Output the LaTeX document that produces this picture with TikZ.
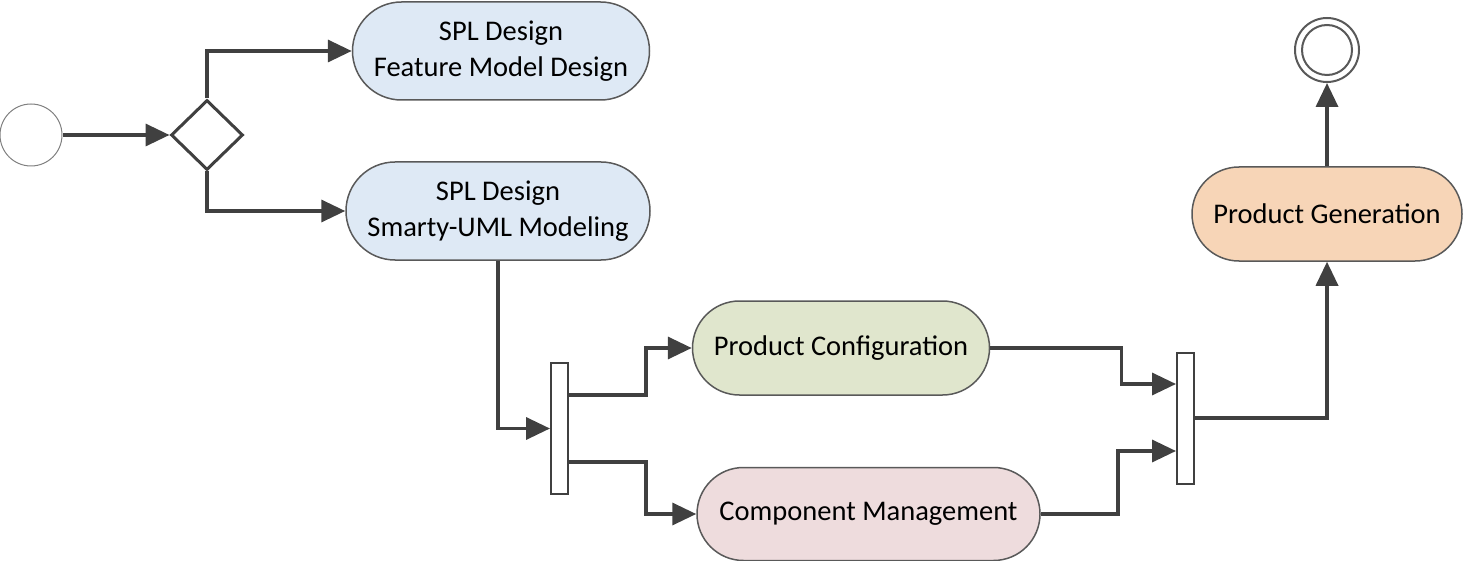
\documentclass[tikz,border=0pt]{standalone}
\usepackage{fontspec}
\setmainfont{Carlito}
\usepackage{tikz}
\usetikzlibrary{arrows.meta, shapes.geometric, shapes.misc}

\definecolor{lineGray}{HTML}{404040}
\definecolor{edgeGray}{HTML}{595959}
\definecolor{splBlue}{HTML}{DEE9F5}
\definecolor{cfgGreen}{HTML}{E0E6CD}
\definecolor{cmpPink}{HTML}{EEDCDD}
\definecolor{genOrange}{HTML}{F7D5B7}

\begin{document}
\begin{tikzpicture}[
    x=1pt, y=-1pt,
    activity/.style={rounded rectangle, draw=edgeGray, line width=1.5pt, align=center, inner sep=0pt},
    forkbar/.style={rectangle, draw=lineGray, line width=2pt, fill=white, minimum width=17pt, minimum height=131pt, inner sep=0pt},
    flow/.style={draw=lineGray, line width=3.5pt, -{Triangle[length=24pt,width=22pt]}},
    link/.style={draw=lineGray, line width=3.5pt},
    every node/.style={font=\fontsize{28.5}{36}\selectfont}
  ]
  \useasboundingbox (0,0) rectangle (1463,561);

  % start and decision
  \node[circle, draw=gray, line width=1pt, minimum size=62pt, inner sep=0pt] (start) at (31,135) {};
  \node[diamond, draw=lineGray, line width=3pt, fill=white, minimum width=72pt, minimum height=70pt, inner sep=0pt] (dec) at (207,135) {};

  % SPL design activities
  \node[activity, fill=splBlue, minimum width=297pt, minimum height=98pt] (spl1) at (501,51) {SPL Design\\Feature Model Design};
  \node[activity, fill=splBlue, minimum width=304pt, minimum height=98pt] (spl2) at (498,211) {SPL Design\\Smarty-UML Modeling};

  % fork / join bars
  \node[forkbar] (fork1) at (559.5,428.5) {};
  \node[forkbar] (fork2) at (1185.5,418) {};

  % product activities
  \node[activity, fill=cfgGreen, minimum width=297pt, minimum height=94pt] (pc) at (841,348) {Product Configuration};
  \node[activity, fill=cmpPink, minimum width=343pt, minimum height=93pt] (cm) at (868.5,514) {Component Management};
  \node[activity, fill=genOrange, minimum width=270pt, minimum height=94pt] (pg) at (1327,214) {Product Generation};

  % final node
  \node[circle, draw=edgeGray, line width=2pt, minimum size=64pt, inner sep=0pt] (final) at (1327,50) {};
  \draw[edgeGray, line width=2pt] (final.center) circle (25);

  \draw[flow] (start) -- (dec);
  \draw[flow] (dec.north) |- (spl1.west);
  \draw[flow] (dec.south) |- (spl2.west);
  \draw[flow] (spl2.south) |- (fork1.west);

  \draw[flow] (fork1.east |- 0,395) -- ++(77,0) |- (pc.west);
  \draw[flow] (fork1.east |- 0,462) -- ++(77,0) |- (cm.west);
  \draw[flow] (pc.east) -- ++(131,0) |- (fork2.west |- 0,384);
  \draw[flow] (cm.east) -- ++(77,0) |- (fork2.west |- 0,451);

  \draw[flow] (fork2.east) -| (pg.south);
  \draw[flow] (pg.north) -- (final.south);
\end{tikzpicture}
\end{document}
